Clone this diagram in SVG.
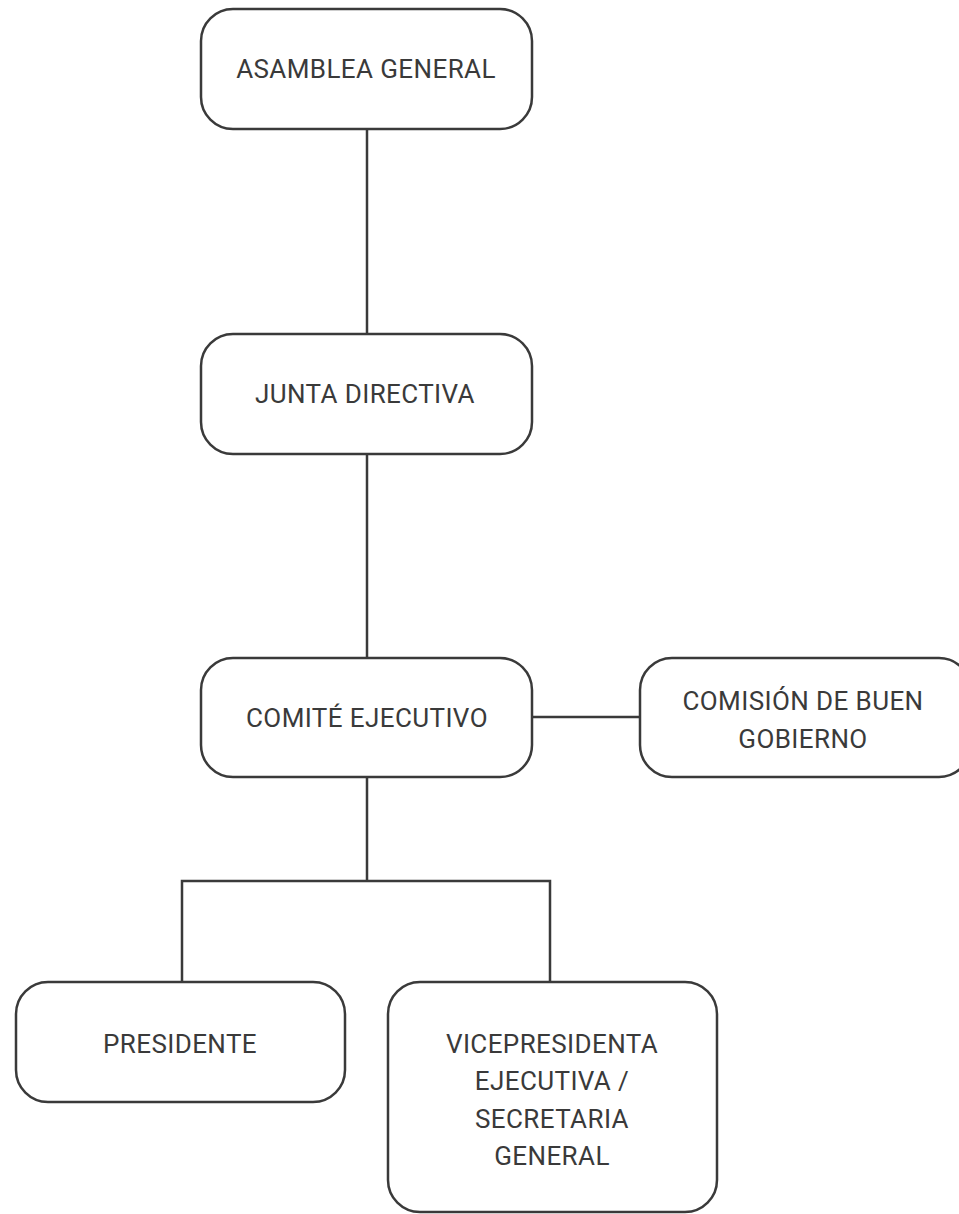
<svg xmlns="http://www.w3.org/2000/svg" width="959" height="1214" viewBox="0 0 959 1214">
<style>
.box{fill:#fff;stroke:#3a3a3a;stroke-width:2.5}
.lbl{font-family:Roboto,"Liberation Sans",sans-serif;font-size:26px;letter-spacing:0.4px;fill:#3a3a3a;text-anchor:middle}
.conn{fill:none;stroke:#3a3a3a;stroke-width:2.5}
</style>
<rect width="959" height="1214" fill="#fff"/>
<g id="connectors">
<line class="conn" x1="367" y1="129" x2="367" y2="334"/>
<line class="conn" x1="367" y1="454" x2="367" y2="658"/>
<line class="conn" x1="532" y1="717" x2="640" y2="717"/>
<path class="conn" d="M367 777 V881 M182 982 V881 H550 V982"/>
</g>
<g id="asamblea"><rect class="box" x="201" y="9" width="331" height="120" rx="32"/><text class="lbl" x="366" y="78">ASAMBLEA GENERAL</text></g>
<g id="junta"><rect class="box" x="201" y="334" width="331" height="120" rx="32"/><text class="lbl" x="365" y="403">JUNTA DIRECTIVA</text></g>
<g id="comite"><rect class="box" x="201" y="658" width="331" height="119" rx="32"/><text class="lbl" x="367" y="727">COMITÉ EJECUTIVO</text></g>
<g id="comision"><rect class="box" x="640" y="658" width="331" height="119" rx="32"/><text class="lbl" x="803" y="710">COMISIÓN DE BUEN</text><text class="lbl" x="803" y="748">GOBIERNO</text></g>
<g id="presidente"><rect class="box" x="16" y="982" width="329" height="120" rx="32"/><text class="lbl" x="180" y="1053">PRESIDENTE</text></g>
<g id="vicepresidenta"><rect class="box" x="388" y="982" width="329" height="230" rx="32"/><text class="lbl" x="552" y="1053">VICEPRESIDENTA</text><text class="lbl" x="552" y="1090">EJECUTIVA /</text><text class="lbl" x="552" y="1128">SECRETARIA</text><text class="lbl" x="552" y="1165">GENERAL</text></g>
</svg>
